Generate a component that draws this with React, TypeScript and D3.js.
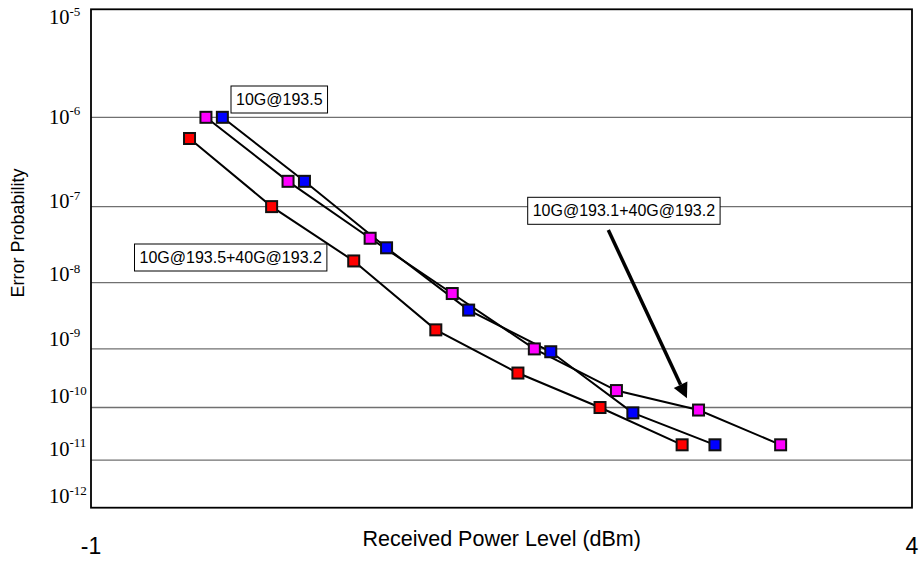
import { useEffect, useRef } from "react"
import * as d3 from "d3"

// received power (dBm) and error probability for each curve
const xRed = [-0.4, 0.1, 0.6, 1.1, 1.6, 2.1, 2.6]
const berRed = [6e-7, 1e-7, 2e-8, 2e-9, 4e-10, 1e-10, 2e-11]
const xMagenta = [-0.3, 0.2, 0.7, 1.2, 1.7, 2.2, 2.7, 3.2]
const berMagenta = [1e-6, 2e-7, 4e-8, 7e-9, 1e-9, 2e-10, 9e-11, 2e-11]
const xBlue = [-0.2, 0.3, 0.8, 1.3, 1.8, 2.3, 2.8]
const berBlue = [1e-6, 2e-7, 3e-8, 4e-9, 9e-10, 8e-11, 2e-11]

const xTicks = [-1, 4]
const yExponents = [-5, -6, -7, -8, -9, -10, -11, -12]
const gridExponents = [-6, -7, -8, -9, -10, -11]

const W = 919
const H = 561
const margin = { top: 9.3, right: 7, bottom: 53.3, left: 91 }

// Q factor from bit error rate (Acklam's inverse normal, lower tail)
function qOf(p: number) {
  const c = [-7.784894002430293e-3, -3.223964580411365e-1, -2.400758277161838, -2.549732539343734, 4.374664141464968, 2.938163982698783]
  const d = [7.784695709041462e-3, 3.224671290700398e-1, 2.445134137142996, 3.754408661907416]
  const q = Math.sqrt(-2 * Math.log(p))
  const x = (((((c[0] * q + c[1]) * q + c[2]) * q + c[3]) * q + c[4]) * q + c[5]) /
    ((((d[0] * q + d[1]) * q + d[2]) * q + d[3]) * q + 1)
  return -x
}

export default function App() {
  const svgRef = useRef<SVGSVGElement>(null)

  useEffect(() => {
    if (!svgRef.current) return
    const svg = d3.select(svgRef.current)
    svg.selectAll("*").remove()

    const x0 = margin.left
    const x1 = W - margin.right
    const y0 = margin.top
    const y1 = H - margin.bottom

    const x = d3.scaleLinear().domain([-1, 4]).range([x0, x1])
    const yq = d3
      .scaleLinear()
      .domain([Math.log10(qOf(1e-5)), Math.log10(qOf(1e-12))])
      .range([y0, y1])
    const y = (ber: number) => yq(Math.log10(qOf(ber)))
    // tick labels were laid out on a log(-log) spacing in the original
    const yLabel = d3
      .scaleLinear()
      .domain([Math.log10(5), Math.log10(12)])
      .range([24, 503.3])

    // gridlines
    svg
      .append("g")
      .selectAll("line")
      .data(gridExponents)
      .enter()
      .append("line")
      .attr("x1", x0)
      .attr("x2", x1)
      .attr("y1", (e) => y(Math.pow(10, e)))
      .attr("y2", (e) => y(Math.pow(10, e)))
      .attr("stroke", "#707070")
      .attr("stroke-width", 1.3)

    // plot frame
    svg
      .append("rect")
      .attr("x", x0)
      .attr("y", y0)
      .attr("width", x1 - x0)
      .attr("height", y1 - y0)
      .attr("fill", "none")
      .attr("stroke", "#000")
      .attr("stroke-width", 1.8)

    // y tick labels
    const yt = svg
      .append("g")
      .attr("font-family", "'Liberation Serif', 'Times New Roman', serif")
      .attr("fill", "#000")
      .selectAll("text")
      .data(yExponents)
      .enter()
      .append("text")
      .attr("x", 49)
      .attr("y", (e) => yLabel(Math.log10(-e)))
      .attr("font-size", 20.5)
    yt.append("tspan").text("10")
    yt.append("tspan").attr("font-size", 13).attr("dy", -8.5).text((e) => `${e}`)

    // x tick labels
    svg
      .append("g")
      .selectAll("text")
      .data(xTicks)
      .enter()
      .append("text")
      .attr("x", (d) => x(d))
      .attr("y", 554)
      .attr("text-anchor", "middle")
      .attr("font-family", "'Liberation Sans', Arial, sans-serif")
      .attr("font-size", 23)
      .text((d) => `${d}`)

    // axis titles
    svg
      .append("text")
      .attr("x", 501.7)
      .attr("y", 546)
      .attr("text-anchor", "middle")
      .attr("font-family", "'Liberation Sans', Arial, sans-serif")
      .attr("font-size", 21.5)
      .text("Received Power Level (dBm)")

    svg
      .append("text")
      .attr("transform", "translate(23.5,233) rotate(-90)")
      .attr("text-anchor", "middle")
      .attr("font-family", "'Liberation Sans', Arial, sans-serif")
      .attr("font-size", 18)
      .text("Error Probability")

    const series = [
      { name: "10G@193.5+40G@193.2", xs: xRed, ys: berRed, color: "#ff0000" },
      { name: "10G@193.1+40G@193.2", xs: xMagenta, ys: berMagenta, color: "#ff00ff" },
      { name: "10G@193.5", xs: xBlue, ys: berBlue, color: "#0000ff" },
    ]

    const line = d3
      .line<[number, number]>()
      .x((d) => x(d[0]))
      .y((d) => y(d[1]))

    series.forEach((s) => {
      svg
        .append("path")
        .datum(s.xs.map((v, i) => [v, s.ys[i]] as [number, number]))
        .attr("d", line)
        .attr("fill", "none")
        .attr("stroke", "#000")
        .attr("stroke-width", 2)
    })

    series.forEach((s) => {
      svg
        .append("g")
        .selectAll("rect")
        .data(s.xs.map((v, i) => [v, s.ys[i]] as [number, number]))
        .enter()
        .append("rect")
        .attr("x", (d) => x(d[0]) - 5.5)
        .attr("y", (d) => y(d[1]) - 5.5)
        .attr("width", 11)
        .attr("height", 11)
        .attr("fill", s.color)
        .attr("stroke", "#111")
        .attr("stroke-width", 2)
    })

    // arrow to the 10G@193.1+40G@193.2 curve
    const target = [xMagenta[6], berMagenta[6]]
    const tx = x(target[0]) - 11.6
    const ty = y(target[1]) - 11.7
    const sx = 608.3
    const sy = 230
    const ang = Math.atan2(ty - sy, tx - sx)
    const headLen = 15
    const headW = 7.5
    const bx = tx - headLen * Math.cos(ang)
    const by = ty - headLen * Math.sin(ang)
    svg
      .append("line")
      .attr("x1", sx)
      .attr("y1", sy)
      .attr("x2", bx)
      .attr("y2", by)
      .attr("stroke", "#000")
      .attr("stroke-width", 3.5)
    svg
      .append("path")
      .attr(
        "d",
        `M${tx},${ty}L${bx + headW * Math.sin(ang)},${by - headW * Math.cos(ang)}L${bx - headW * Math.sin(ang)},${by + headW * Math.cos(ang)}Z`,
      )
      .attr("fill", "#000")

    // annotation boxes
    const notes = [
      { text: "10G@193.5", left: 231, top: 86 },
      { text: "10G@193.5+40G@193.2", left: 134.5, top: 244 },
      { text: "10G@193.1+40G@193.2", left: 527.7, top: 197.3 },
    ]
    notes.forEach((n) => {
      const g = svg.append("g")
      const rect = g.append("rect")
      const t = g
        .append("text")
        .attr("font-family", "'Liberation Sans', Arial, sans-serif")
        .attr("font-size", 16)
        .attr("x", n.left + 5)
        .attr("y", n.top + 19)
        .text(n.text)
      const w = (t.node() as SVGTextElement).getComputedTextLength()
      rect
        .attr("x", n.left)
        .attr("y", n.top)
        .attr("width", w + 10)
        .attr("height", 27)
        .attr("fill", "#fff")
        .attr("stroke", "#000")
        .attr("stroke-width", 1)
    })
  }, [])

  return (
    <svg
      ref={svgRef}
      width={W}
      height={H}
      style={{ position: "absolute", left: 0, top: 0, background: "#fff" }}
    />
  )
}
